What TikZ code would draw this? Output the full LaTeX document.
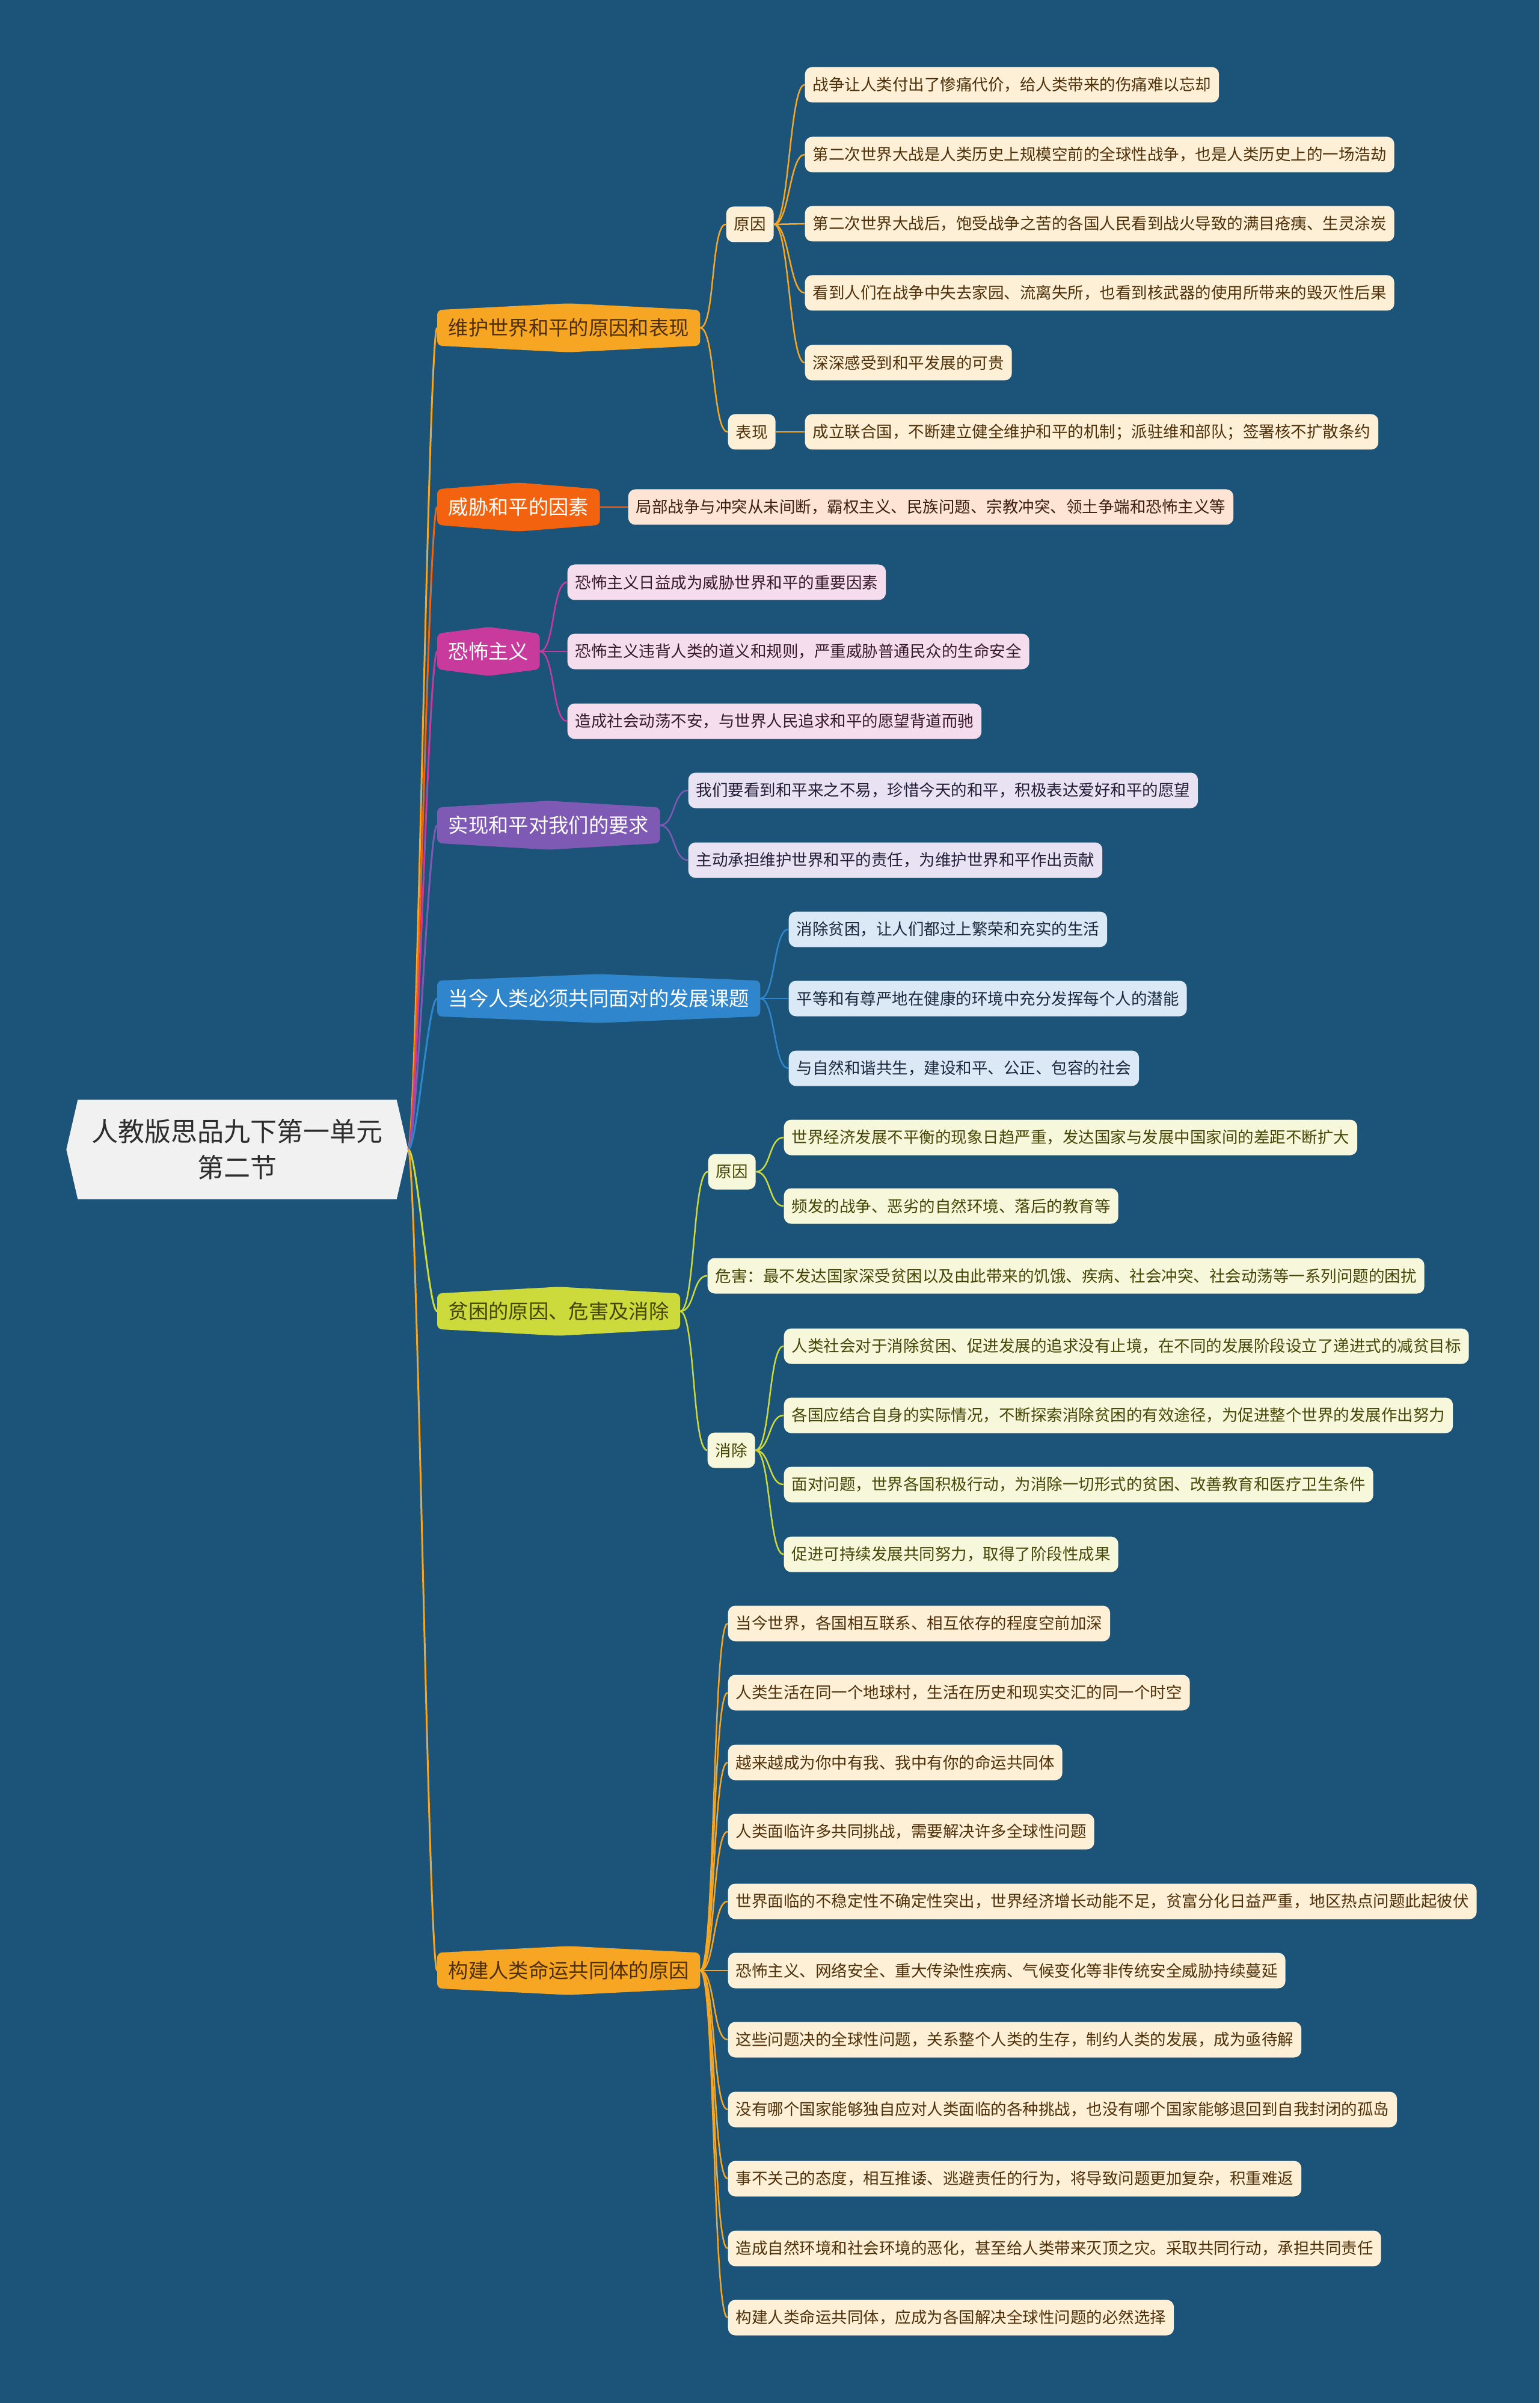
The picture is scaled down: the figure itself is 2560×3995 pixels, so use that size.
\documentclass[tikz,border=0pt]{standalone}
\usepackage{fontspec}
\setmainfont{Noto Sans CJK SC}
\usetikzlibrary{calc}
\pgfdeclarelayer{back}
\pgfdeclarelayer{mid}
\pgfsetlayers{back,mid,main}
\definecolor{bgblue}{RGB}{27,84,120}
\definecolor{rootfill}{RGB}{241,241,241}
\definecolor{roottext}{RGB}{45,45,45}
\definecolor{cOr}{RGB}{246,166,35}
\definecolor{cRd}{RGB}{242,98,15}
\definecolor{cMg}{RGB}{200,58,155}
\definecolor{cPu}{RGB}{126,90,180}
\definecolor{cBl}{RGB}{48,134,204}
\definecolor{cGr}{RGB}{205,218,60}
\definecolor{fOr}{RGB}{253,240,214}
\definecolor{fRd}{RGB}{253,228,212}
\definecolor{fMg}{RGB}{246,221,238}
\definecolor{fPu}{RGB}{232,226,242}
\definecolor{fBl}{RGB}{219,233,246}
\definecolor{fGr}{RGB}{247,247,220}
\definecolor{tOr}{RGB}{80,48,8}
\definecolor{tRd}{RGB}{60,30,15}
\definecolor{tMg}{RGB}{55,25,45}
\definecolor{tPu}{RGB}{35,30,55}
\definecolor{tBl}{RGB}{25,40,60}
\definecolor{tGr}{RGB}{70,70,5}
\tikzset{
  leaf/.style={rounded corners=3.6pt, inner xsep=3.9pt, inner ysep=0pt,
    minimum height=17.7pt, anchor=west, font=\fontsize{7.95pt}{10pt}\selectfont},
  br/.style={inner xsep=5.4pt, inner ysep=0pt, minimum height=17.4pt, anchor=west,
    font=\fontsize{10pt}{12pt}\selectfont},
  lOr/.style={leaf, fill=fOr, text=tOr},
  lRd/.style={leaf, fill=fRd, text=tRd},
  lMg/.style={leaf, fill=fMg, text=tMg},
  lPu/.style={leaf, fill=fPu, text=tPu},
  lBl/.style={leaf, fill=fBl, text=tBl},
  lGr/.style={leaf, fill=fGr, text=tGr},
  mainlink/.style={draw=#1, line width=0.9pt, to path={.. controls +(4.5pt,0) and +(-4.5pt,0) .. (\tikztotarget)}},
  sublink/.style={draw=#1, line width=0.75pt, to path={.. controls +(7.5pt,0) and +(-7.5pt,0) .. (\tikztotarget)}},
}
\newcommand\brshape[2]{%
  \fill[#2, rounded corners=2.4pt] (#1.west) -- (#1.north west) -- ([yshift=3.3pt]#1.north)
    -- (#1.north east) -- (#1.south east) -- ([yshift=-3.3pt]#1.south) -- (#1.south west) -- cycle;}
\begin{document}
\begin{tikzpicture}[x=0.3pt, y=-0.3pt]
\begin{pgfonlayer}{back}
\fill[bgblue] (0,0) rectangle (2560,3995);
\end{pgfonlayer}
\useasboundingbox (0,0) rectangle (2560,3995);

% root
\node[minimum width=170.1pt, minimum height=49.2pt, inner sep=0pt, text=roottext, align=center,
  font=\fontsize{13.2pt}{18pt}\selectfont] (root) at (394.5,1911) {人教版思品九下第一单元\\第二节};

% branches
\node[br, text=tOr] (b1) at (727,545) {维护世界和平的原因和表现};
\node[br, text=white] (b2) at (727,843) {威胁和平的因素};
\node[br, text=white] (b3) at (727,1083) {恐怖主义};
\node[br, text=white] (b4) at (727,1372) {实现和平对我们的要求};
\node[br, text=white] (b5) at (727,1660) {当今人类必须共同面对的发展课题};
\node[br, text=tGr] (b6) at (727,2180) {贫困的原因、危害及消除};
\node[br, text=tOr] (b7) at (727,3276) {构建人类命运共同体的原因};

% branch 1
\node[lOr] (s11) at (1207,373) {原因};
\node[lOr] (s12) at (1210,718) {表现};
\node[lOr] (l111) at (1338,141) {战争让人类付出了惨痛代价，给人类带来的伤痛难以忘却};
\node[lOr] (l112) at (1338,257) {第二次世界大战是人类历史上规模空前的全球性战争，也是人类历史上的一场浩劫};
\node[lOr] (l113) at (1338,372) {第二次世界大战后，饱受战争之苦的各国人民看到战火导致的满目疮痍、生灵涂炭};
\node[lOr] (l114) at (1338,487) {看到人们在战争中失去家园、流离失所，也看到核武器的使用所带来的毁灭性后果};
\node[lOr] (l115) at (1338,603) {深深感受到和平发展的可贵};
\node[lOr] (l121) at (1338,718) {成立联合国，不断建立健全维护和平的机制；派驻维和部队；签署核不扩散条约};

% branch 2
\node[lRd] (l21) at (1044,843) {局部战争与冲突从未间断，霸权主义、民族问题、宗教冲突、领土争端和恐怖主义等};

% branch 3
\node[lMg] (l31) at (943,968) {恐怖主义日益成为威胁世界和平的重要因素};
\node[lMg] (l32) at (943,1083) {恐怖主义违背人类的道义和规则，严重威胁普通民众的生命安全};
\node[lMg] (l33) at (943,1199) {造成社会动荡不安，与世界人民追求和平的愿望背道而驰};

% branch 4
\node[lPu] (l41) at (1144,1314) {我们要看到和平来之不易，珍惜今天的和平，积极表达爱好和平的愿望};
\node[lPu] (l42) at (1144,1430) {主动承担维护世界和平的责任，为维护世界和平作出贡献};

% branch 5
\node[lBl] (l51) at (1311,1545) {消除贫困，让人们都过上繁荣和充实的生活};
\node[lBl] (l52) at (1311,1660) {平等和有尊严地在健康的环境中充分发挥每个人的潜能};
\node[lBl] (l53) at (1311,1776) {与自然和谐共生，建设和平、公正、包容的社会};

% branch 6
\node[lGr] (s61) at (1177,1948) {原因};
\node[lGr] (l611) at (1303,1891) {世界经济发展不平衡的现象日趋严重，发达国家与发展中国家间的差距不断扩大};
\node[lGr] (l612) at (1303,2005) {频发的战争、恶劣的自然环境、落后的教育等};
\node[lGr] (l62) at (1176,2121) {危害：最不发达国家深受贫困以及由此带来的饥饿、疾病、社会冲突、社会动荡等一系列问题的困扰};
\node[lGr] (s63) at (1176,2411) {消除};
\node[lGr] (l631) at (1303,2238) {人类社会对于消除贫困、促进发展的追求没有止境，在不同的发展阶段设立了递进式的减贫目标};
\node[lGr] (l632) at (1303,2353) {各国应结合自身的实际情况，不断探索消除贫困的有效途径，为促进整个世界的发展作出努力};
\node[lGr] (l633) at (1303,2468) {面对问题，世界各国积极行动，为消除一切形式的贫困、改善教育和医疗卫生条件};
\node[lGr] (l634) at (1303,2584) {促进可持续发展共同努力，取得了阶段性成果};

% branch 7
\node[lOr] (l71) at (1210,2699) {当今世界，各国相互联系、相互依存的程度空前加深};
\node[lOr] (l72) at (1210,2814) {人类生活在同一个地球村，生活在历史和现实交汇的同一个时空};
\node[lOr] (l73) at (1210,2930) {越来越成为你中有我、我中有你的命运共同体};
\node[lOr] (l74) at (1210,3045) {人类面临许多共同挑战，需要解决许多全球性问题};
\node[lOr] (l75) at (1210,3161) {世界面临的不稳定性不确定性突出，世界经济增长动能不足，贫富分化日益严重，地区热点问题此起彼伏};
\node[lOr] (l76) at (1210,3276) {恐怖主义、网络安全、重大传染性疾病、气候变化等非传统安全威胁持续蔓延};
\node[lOr] (l77) at (1210,3391) {这些问题决的全球性问题，关系整个人类的生存，制约人类的发展，成为亟待解};
\node[lOr] (l78) at (1210,3507) {没有哪个国家能够独自应对人类面临的各种挑战，也没有哪个国家能够退回到自我封闭的孤岛};
\node[lOr] (l79) at (1210,3622) {事不关己的态度，相互推诿、逃避责任的行为，将导致问题更加复杂，积重难返};
\node[lOr] (l710) at (1210,3738) {造成自然环境和社会环境的恶化，甚至给人类带来灭顶之灾。采取共同行动，承担共同责任};
\node[lOr] (l711) at (1210,3853) {构建人类命运共同体，应成为各国解决全球性问题的必然选择};

\begin{pgfonlayer}{mid}
% root shape
\fill[rootfill] (root.west) -- ([xshift=5.7pt]root.north west) -- ([xshift=-5.7pt]root.north east)
  -- (root.east) -- ([xshift=-5.7pt]root.south east) -- ([xshift=5.7pt]root.south west) -- cycle;
% branch shapes
\brshape{b1}{cOr}
\brshape{b2}{cRd}
\brshape{b3}{cMg}
\brshape{b4}{cPu}
\brshape{b5}{cBl}
\brshape{b6}{cGr}
\brshape{b7}{cOr}
% root links
\draw[mainlink=cOr] (root.east) to (b1.west);
\draw[mainlink=cRd] (root.east) to (b2.west);
\draw[mainlink=cMg] (root.east) to (b3.west);
\draw[mainlink=cPu] (root.east) to (b4.west);
\draw[mainlink=cBl] (root.east) to (b5.west);
\draw[mainlink=cGr] (root.east) to (b6.west);
\draw[mainlink=cOr] (root.east) to (b7.west);
% branch 1
\draw[sublink=cOr] (b1.east) to (s11.west);
\draw[sublink=cOr] (b1.east) to (s12.west);
\foreach \t in {l111,l112,l113,l114,l115} \draw[sublink=cOr] (s11.east) to (\t.west);
\draw[sublink=cOr] (s12.east) to (l121.west);
% branch 2
\draw[sublink=cRd] (b2.east) to (l21.west);
% branch 3
\foreach \t in {l31,l32,l33} \draw[sublink=cMg] (b3.east) to (\t.west);
% branch 4
\foreach \t in {l41,l42} \draw[sublink=cPu] (b4.east) to (\t.west);
% branch 5
\foreach \t in {l51,l52,l53} \draw[sublink=cBl] (b5.east) to (\t.west);
% branch 6
\foreach \t in {s61,l62,s63} \draw[sublink=cGr] (b6.east) to (\t.west);
\foreach \t in {l611,l612} \draw[sublink=cGr] (s61.east) to (\t.west);
\foreach \t in {l631,l632,l633,l634} \draw[sublink=cGr] (s63.east) to (\t.west);
% branch 7
\foreach \t in {l71,l72,l73,l74,l75,l76,l77,l78,l79,l710,l711} \draw[sublink=cOr] (b7.east) to (\t.west);
\end{pgfonlayer}
\end{tikzpicture}
\end{document}
